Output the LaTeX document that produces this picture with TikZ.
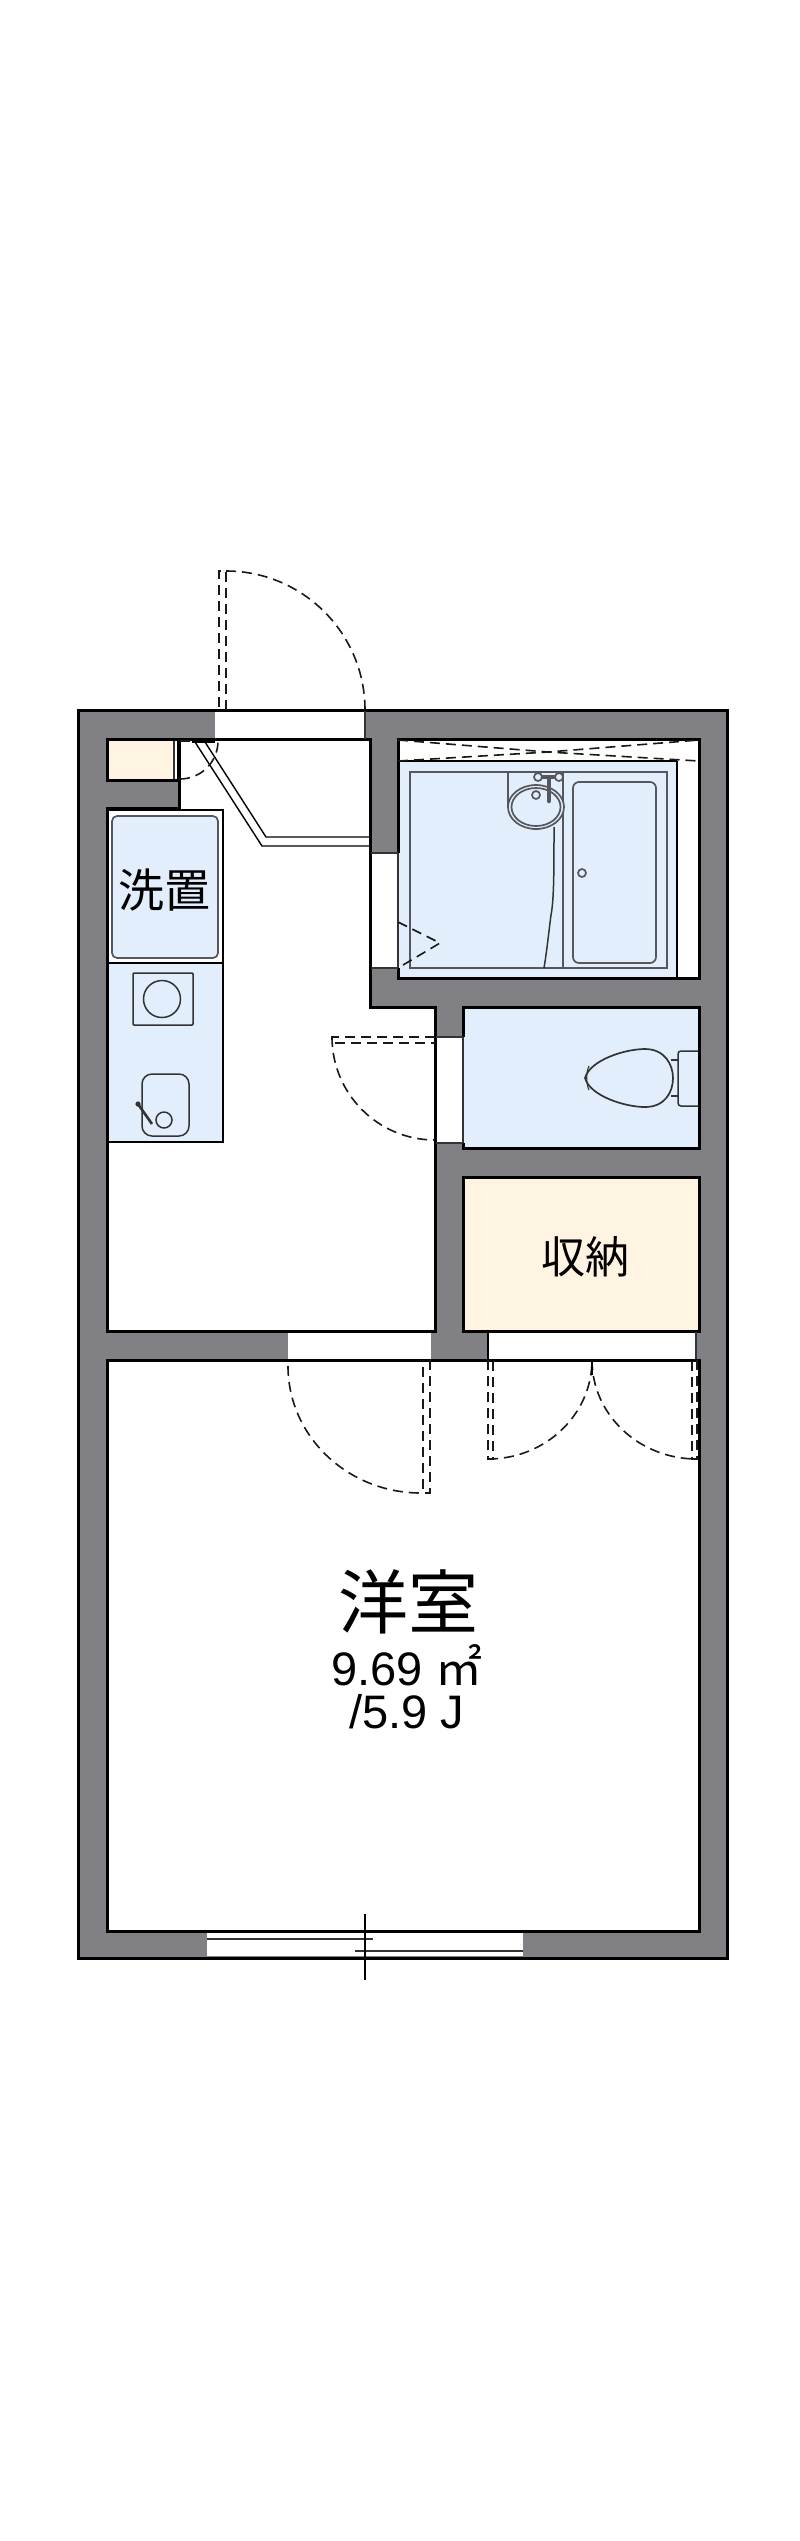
\documentclass[tikz,border=0pt]{standalone}
\usepackage{fontspec}
\setmainfont{Liberation Sans}
\newfontfamily\jpfont{Noto Sans CJK JP}
\definecolor{wallgray}{HTML}{808085}
\definecolor{wetblue}{HTML}{E3EEFC}
\definecolor{storecream}{HTML}{FFF4E2}
\definecolor{fixgray}{HTML}{55575C}
\tikzset{
	wall/.style={draw=black,line width=3pt,line join=miter},
	opening/.style={fill=white,draw=none},
	thinline/.style={draw=black!80,line width=1.1pt},
	doorswing/.style={draw=black!90,line width=1.6pt,dash pattern=on 10pt off 6pt},
	fixture/.style={draw=fixgray,line width=1.7pt},
	fixturedark/.style={draw=black!80,line width=1.5pt}
}
\begin{document}
\begin{tikzpicture}[x=1pt,y=1pt]
	\useasboundingbox (0,0) rectangle (800,-2541);
	\fill[white] (0,0) rectangle (800,-2541);
	% Outer walls.
	\filldraw[wall,fill=wallgray] (78,-710) rectangle (727,-1958);
	% Rooms.
	\filldraw[wall,fill=white] (179,-739) -- (370,-739) -- (370,-1007) -- (435,-1007) -- (435,-1331) -- (107,-1331) -- (107,-808) -- (179,-808) -- cycle;
	\filldraw[wall,fill=storecream] (107,-739) rectangle (178,-780);
	\filldraw[wall,fill=white] (398,-739) rectangle (699,-978);
	\filldraw[wall,fill=wetblue] (463,-1007) rectangle (699,-1148);
	\filldraw[wall,fill=storecream] (463,-1177) rectangle (699,-1331);
	\filldraw[wall,fill=white] (107,-1360) rectangle (699,-1931);
	\fill[white] (174,-741) rectangle (177,-778);
	\draw[thinline] (174,-741) -- (174,-779);
	% Bath floor.
	\fill[wetblue] (399.5,-761) rectangle (677,-976.5);
	\draw[line width=1.5pt] (399,-761) -- (677,-761);
	\draw[line width=1.3pt] (677,-761) -- (677,-977);
	% Openings in the walls.
	\fill[opening] (215,-711.5) rectangle (365,-738);
	\draw[thinline] (365,-711) -- (365,-739);
	\fill[opening] (288,-1332.5) rectangle (431,-1358.5);
	\fill[opening] (488,-1332.5) rectangle (696,-1358.5);
	\draw[line width=1.3pt] (488,-1332) -- (488,-1359);
	\draw[thinline] (696,-1332) -- (696,-1359);
	\fill[opening] (371.5,-853) rectangle (397,-968);
	\fill[wetblue] (397,-853) rectangle (399.5,-968);
	\draw[thinline] (398,-853) -- (398,-968);
	\fill[opening] (436.5,-1037) rectangle (461.5,-1143);
	\fill[wetblue] (461.5,-1037) rectangle (464.5,-1143);
	\draw[thinline] (463,-1037) -- (463,-1143);
	\draw[thinline] (436,-1037) -- (463,-1037);
	\draw[thinline] (436,-1143) -- (463,-1143);
	\draw[thinline] (371,-853) -- (398,-853);
	\draw[thinline] (371,-968) -- (398,-968);
	% Window.
	\fill[opening] (207,-1933) rectangle (523,-1956);
	\draw[thinline] (207,-1939) -- (373,-1939);
	\draw[thinline] (355,-1951) -- (523,-1951);
	\draw[line width=1.3pt] (365,-1914) -- (365,-1980);
	% Entrance step.
	\draw[line width=1.4pt] (195,-742) -- (262,-846) -- (370,-846);
	\draw[line width=1.4pt] (205,-742) -- (266,-837) -- (370,-837);
	% Kitchen counter.
	\filldraw[draw=black,line width=1.5pt,fill=white] (107,-810) rectangle (223,-963);
	\filldraw[draw=black,line width=1.5pt,fill=wetblue] (107,-963) rectangle (223,-1142);
	\filldraw[fixture,fill=wetblue,rounded corners=5pt] (112,-816) rectangle (218,-958);
	\draw[wall] (107,-808) -- (107,-1331);
	\filldraw[fixturedark,fill=wetblue,rounded corners=1pt] (133,-973) rectangle (193,-1025);
	\draw[fixturedark] (162,-999) circle (18.5pt);
	\draw[fixturedark,rounded corners=10pt] (142,-1074) rectangle (189,-1136);
	\draw[fixturedark] (164,-1120) circle (8pt);
	\draw[line width=2.6pt,black!80] (138,-1104) -- (152,-1124);
	\fill[black!80] (138,-1104) circle (2.6pt);
	% Bath fittings.
	\draw[fixture] (410,-772) rectangle (667,-968);
	\draw[fixture] (563,-772) -- (563,-968);
	\draw[fixture] (508,-772) -- (508,-807);
	\filldraw[fixture,fill=wetblue] (536,-807) ellipse (28pt and 22pt);
	\draw[fixture] (536,-807) ellipse (24.5pt and 19pt);
	\fill[fixgray] (541,-775) rectangle (556,-779);
	\filldraw[fixture,fill=wetblue] (538,-777) circle (4pt);
	\filldraw[fixture,fill=wetblue] (559,-777) circle (4pt);
	\draw[draw=fixgray,line width=4.5pt,line cap=round] (549,-778) -- (549,-801);
	\filldraw[fixture,fill=wetblue] (536,-795) circle (4pt);
	\draw[fixturedark] (554,-827) .. controls (554,-870) and (554,-900) .. (551,-915) .. controls (549,-930) and (547,-950) .. (544,-968);
	\draw[fixture,rounded corners=6pt] (573,-782) rectangle (656,-963);
	\filldraw[fixture,fill=wetblue] (582,-873) circle (4pt);
	% Toilet.
	\draw[fixturedark,line width=1.7pt] (585,-1078) .. controls (590,-1060) and (625,-1049) .. (645,-1049) .. controls (665,-1049) and (673,-1065) .. (673,-1078) .. controls (673,-1092) and (665,-1107) .. (645,-1107) .. controls (625,-1107) and (590,-1096) .. cycle;
	\draw[thinline] (589,-1066) .. controls (586,-1072) and (586,-1084) .. (589,-1090);
	\draw[thinline] (671,-1060) -- (678,-1060);
	\draw[thinline] (671,-1096) -- (678,-1096);
	\draw[fixturedark,rounded corners=3pt] (698,-1051) -- (678,-1051) -- (678,-1106) -- (698,-1106);
	% Doors.
	\coordinate (frontdoor) at (226,-710);
	\coordinate (shoedoor) at (180,-741);
	\coordinate (toiletdoor) at (435,-1040);
	\coordinate (roomdoor) at (430,-1360);
	\coordinate (closetleft) at (488,-1360);
	\coordinate (closetright) at (697,-1360);
	\draw[doorswing] (frontdoor) ++(0,139) arc (90:0:139pt);
	\draw[doorswing] (frontdoor) -- ++(0,139) -- ++(-7,0) -- ++(0,-139);
	\draw[doorswing] (shoedoor) ++(0,-38) arc (-90:0:38pt);
	\draw[line width=2.4pt] (192,-742) -- (215,-742);
	\draw[doorswing] (180,-741) -- (192,-741);
	\draw[doorswing] (toiletdoor) ++(-103,3) arc (180:270:103pt);
	\draw[doorswing] (toiletdoor) ++(0,3) -- ++(-103,0) -- ++(0,-6) -- ++(103,0);
	\draw[doorswing] (roomdoor) ++(-142,-6) arc (180:270:133pt and 127pt);
	\draw[doorswing] (roomdoor) -- ++(0,-133) -- ++(-7,0) -- ++(0,133);
	\draw[doorswing] (closetleft) ++(0,-99) arc (-90:0:104pt and 99pt);
	\draw[doorswing] (closetleft) -- ++(0,-99) -- ++(5,0) -- ++(0,99);
	\draw[doorswing] (closetright) ++(-105,0) arc (180:270:105pt and 99pt);
	\draw[doorswing] (closetright) -- ++(0,-99) -- ++(-5,0) -- ++(0,99);
	\draw[line width=1.5pt] (592,-1360) -- (592,-1375);
	% Bath doors.
	\draw[doorswing] (398,-740) -- (548,-752) -- (699,-740);
	\draw[doorswing] (398,-761) -- (548,-752) -- (699,-761);
	\draw[doorswing] (398,-922) -- (440,-943) -- (398,-968);
	% Labels.
	\node (washlabel) at (164,-890) {\jpfont\fontsize{46}{46}\selectfont 洗置};
	\node (storelabel) at (585,-1257) {\jpfont\fontsize{44}{44}\selectfont 収納};
	\node (roomlabel) at (408,-1602) {\jpfont\fontsize{70}{70}\selectfont 洋室};
	\node[align=center,font=\fontsize{47}{43}\selectfont] (arealabel) at (407,-1687) {9.69 {\jpfont ㎡}\\/5.9 J};
\end{tikzpicture}
\end{document}
